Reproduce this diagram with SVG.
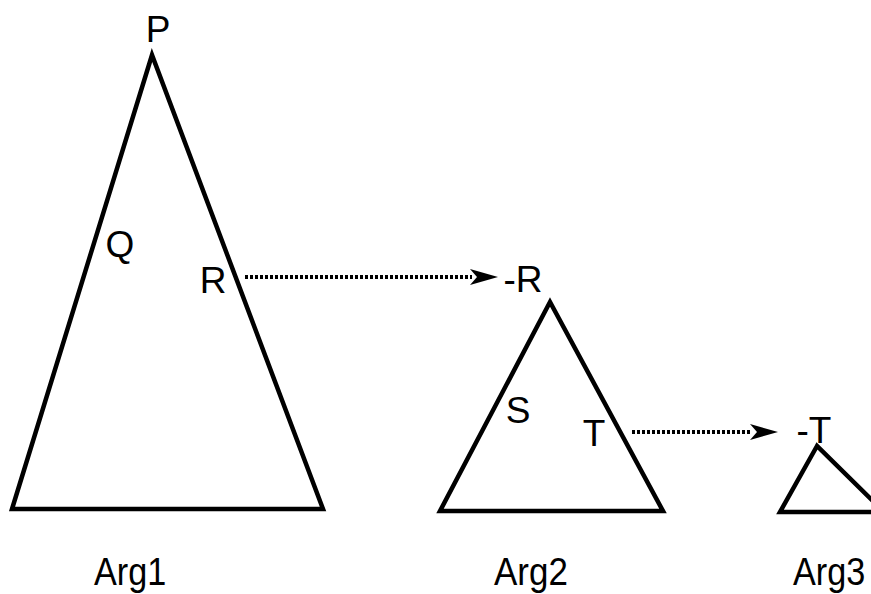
<svg xmlns="http://www.w3.org/2000/svg" width="871" height="594" viewBox="0 0 871 594">
  <style>
    .tri { fill: none; stroke: #000; stroke-width: 4.5; stroke-linejoin: miter; }
    .lbl { font-family: "Liberation Sans", Arial, Helvetica, sans-serif; font-size: 37px; fill: #000; }
    .arg { font-family: "Liberation Sans", Arial, Helvetica, sans-serif; font-size: 38px; fill: #000; }
    .dot { fill: none; stroke: #000; stroke-width: 4; stroke-dasharray: 3 2; }
  </style>
  <defs>
    <marker id="ah" viewBox="0 0 30 18" refX="2" refY="9" markerWidth="30" markerHeight="18" markerUnits="userSpaceOnUse" orient="auto">
      <path d="M0,1 L28,9 L0,17 L7,9 Z" fill="#000"/>
    </marker>
  </defs>
  <g id="arg1">
    <polygon class="tri" points="152,55 12,509 323,509"/>
    <text class="lbl" x="158" y="42" text-anchor="middle">P</text>
    <text class="lbl" x="120" y="257" text-anchor="middle">Q</text>
    <text class="lbl" x="213" y="293" text-anchor="middle">R</text>
    <text class="arg" transform="translate(94,585) scale(0.9,1)">Arg1</text>
  </g>
  <g id="arg2">
    <polygon class="tri" points="550,302 440,511 663,511"/>
    <text class="lbl" x="523" y="292" text-anchor="middle">-R</text>
    <text class="lbl" x="518" y="423" text-anchor="middle">S</text>
    <text class="lbl" x="594" y="446" text-anchor="middle">T</text>
    <text class="arg" transform="translate(494,585) scale(0.92,1)">Arg2</text>
  </g>
  <g id="arg3">
    <polygon class="tri" points="817,446 780,512 884,512"/>
    <text class="lbl" x="814" y="443" text-anchor="middle">-T</text>
    <text class="arg" transform="translate(793,585) scale(0.9,1)">Arg3</text>
  </g>
  <g id="connectors">
    <line class="dot" x1="245" y1="277" x2="472" y2="277" marker-end="url(#ah)"/>
    <line class="dot" x1="632" y1="432" x2="752" y2="432" marker-end="url(#ah)"/>
  </g>
</svg>
